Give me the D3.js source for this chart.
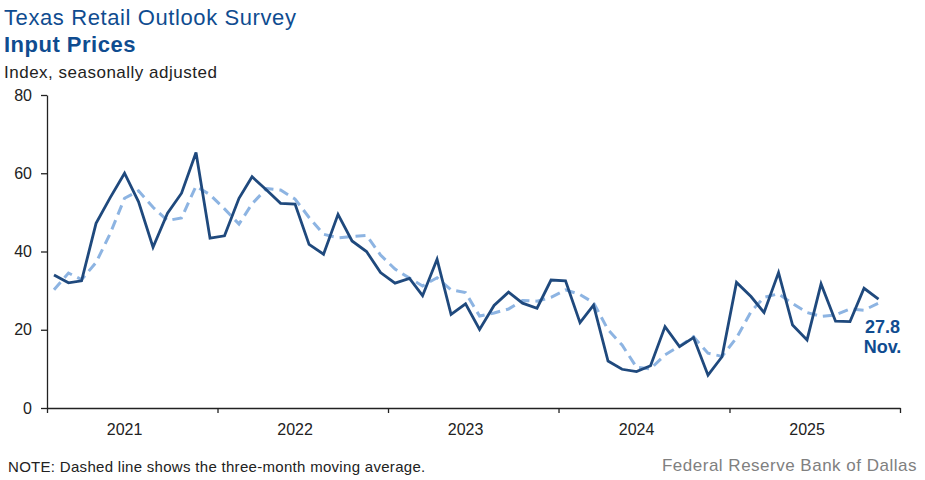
<!DOCTYPE html>
<html>
<head>
<meta charset="utf-8">
<script src="https://cdn.jsdelivr.net/npm/d3@7"></script>
<style>
  body { margin: 0; background: #fff; }
  svg { display: block; font-family: "Liberation Sans", Arial, sans-serif; }
</style>
</head>
<body>
<div id="chart"></div>
<script>
/* CONSTANTS AND GLOBALS */

const width = 925;
const height = 480;
const margin = { top: 95, left: 47, right: 25, bottom: 72 };

// Jan 2021 - Nov 2025, monthly
const startYear = 2021;
const months = d3.range(59).map(i => new Date(startYear, i, 16));

// index, seasonally adjusted
const inputPrices = [
  34.0, 32.0, 32.5, 47.2, 53.7, 60.0, 52.7, 41.1, 49.8, 54.9, 65.3, 43.4,
  44.0, 53.6, 59.1, 55.7, 52.3, 52.1, 41.8, 39.3, 49.5, 42.7, 40.0, 34.6,
  31.9, 33.1, 28.7, 38.0, 23.9, 26.6, 20.1, 26.2, 29.6, 26.8, 25.5, 32.7,
  32.5, 21.8, 26.3, 12.0, 9.9, 9.3, 10.8, 20.8, 15.7, 18.0, 8.4, 13.1,
  32.1, 28.5, 24.4, 34.6, 21.2, 17.4, 31.7, 22.2, 22.1, 30.6, 27.8
];

// three-month moving average (dashed)
const movingAvg = [
  30.2, 34.5, 32.8, 37.2, 44.5, 53.6, 55.5, 51.3, 47.9, 48.6, 56.7, 54.5,
  50.9, 47.0, 52.2, 56.1, 55.7, 53.4, 48.7, 44.4, 43.5, 43.8, 44.1, 39.1,
  35.5, 33.2, 31.2, 33.3, 30.2, 29.5, 23.5, 24.3, 25.3, 27.5, 27.3, 28.3,
  30.2, 29.0, 26.9, 20.0, 16.1, 10.4, 10.0, 13.6, 15.8, 18.2, 14.0, 13.2,
  17.9, 24.6, 28.3, 29.2, 26.7, 24.4, 23.4, 23.8, 25.3, 25.0, 26.8
];

const yTicks = [0, 20, 40, 60, 80];
const yearLabels = ["2021", "2022", "2023", "2024", "2025"];

const titleBlue = "#0f4c90";
const lineBlue = "#1f497d";
const dashBlue = "#8db4e2";
const tickColor = "#222";

// CREATE MAIN SVG ELEMENT ==================================
const svg = d3.select("#chart")
  .append("svg")
  .attr("width", width)
  .attr("height", height);

// SCALES =================================================
const xScale = d3.scaleTime()
  .domain([new Date(startYear, 0, 1), new Date(startYear + 5, 0, 1)])
  .range([margin.left, width - margin.right]);

const yScale = d3.scaleLinear()
  .domain([0, 80])
  .range([height - margin.bottom, margin.top]);

// AXIS
const yAxis = d3.axisLeft(yScale)
  .tickValues(yTicks)
  .tickSize(6)
  .tickSizeOuter(0)
  .tickPadding(9);

const yearStarts = d3.range(6).map(i => new Date(startYear + i, 0, 1));
const xAxis = d3.axisBottom(xScale)
  .tickValues(yearStarts)
  .tickSize(5)
  .tickSizeOuter(0)
  .tickFormat("");

// y axis
svg.append("g")
  .attr("transform", `translate(${margin.left}, 0)`)
  .call(yAxis)
  .call(g => g.selectAll("path, line").attr("stroke", tickColor).attr("stroke-width", 1.3))
  .call(g => g.selectAll("text")
    .attr("fill", tickColor)
    .style("font-size", "16px"));

// x axis
svg.append("g")
  .attr("transform", `translate(0, ${yScale(0)})`)
  .call(xAxis)
  .call(g => g.selectAll("path, line").attr("stroke", tickColor).attr("stroke-width", 1.3));

// year labels, centered at mid-year
svg.selectAll(".year-label")
  .data(yearLabels)
  .join("text")
  .attr("class", "year-label")
  .attr("x", d => xScale(new Date(+d, 5, 16)))
  .attr("y", yScale(0) + 27)
  .attr("text-anchor", "middle")
  .attr("fill", tickColor)
  .style("font-size", "16px")
  .text(d => d);

// LINES ==========================================
const line = d3.line()
  .x((d, i) => xScale(months[i]))
  .y(d => yScale(d));

svg.append("path")
  .datum(movingAvg)
  .attr("fill", "none")
  .attr("stroke", dashBlue)
  .attr("stroke-width", 3)
  .attr("stroke-dasharray", "10,6")
  .attr("d", line);

svg.append("path")
  .datum(inputPrices)
  .attr("fill", "none")
  .attr("stroke", lineBlue)
  .attr("stroke-width", 2.8)
  .attr("stroke-linejoin", "miter")
  .attr("d", line);

// last value label
const last = inputPrices.length - 1;
svg.append("text")
  .attr("x", xScale(months[last]) + 4)
  .attr("y", yScale(inputPrices[last]) + 34)
  .attr("text-anchor", "middle")
  .attr("fill", titleBlue)
  .style("font-size", "18px")
  .style("font-weight", "bold")
  .text(inputPrices[last].toFixed(1));

svg.append("text")
  .attr("x", xScale(months[last]) + 4)
  .attr("y", yScale(inputPrices[last]) + 54)
  .attr("text-anchor", "middle")
  .attr("fill", titleBlue)
  .style("font-size", "18px")
  .style("font-weight", "bold")
  .text("Nov.");

// TITLES ==========================================
svg.append("text")
  .attr("x", 4)
  .attr("y", 25)
  .attr("fill", titleBlue)
  .style("font-size", "22px")
  .style("letter-spacing", "0.6px")
  .text("Texas Retail Outlook Survey");

svg.append("text")
  .attr("x", 4)
  .attr("y", 52)
  .attr("fill", titleBlue)
  .style("font-size", "22px")
  .style("font-weight", "bold")
  .style("letter-spacing", "0.5px")
  .text("Input Prices");

svg.append("text")
  .attr("x", 4)
  .attr("y", 78)
  .attr("fill", tickColor)
  .style("font-size", "17px")
  .style("letter-spacing", "0.5px")
  .text("Index, seasonally adjusted");

// footer
svg.append("text")
  .attr("x", 8)
  .attr("y", 472)
  .attr("fill", tickColor)
  .style("font-size", "15px")
  .style("letter-spacing", "0.3px")
  .text("NOTE: Dashed line shows the three-month moving average.");

svg.append("text")
  .attr("x", 917)
  .attr("y", 471)
  .attr("text-anchor", "end")
  .attr("fill", "#808080")
  .style("font-size", "17px")
  .style("letter-spacing", "0.5px")
  .text("Federal Reserve Bank of Dallas");
</script>
</body>
</html>
